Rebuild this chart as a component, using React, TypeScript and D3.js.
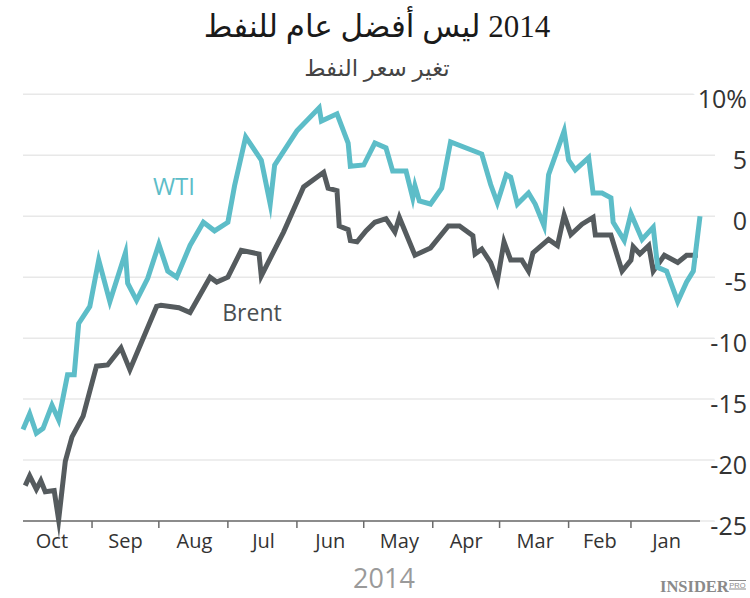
import React from "react";
import * as d3 from "d3";

// WTI: percent change since start of 2014
const wtiDates = [
  "2014-01-01", "2014-01-04", "2014-01-07", "2014-01-11", "2014-01-16", "2014-01-20", "2014-01-22", "2014-01-27",
  "2014-02-01", "2014-02-04", "2014-02-09", "2014-02-10", "2014-02-14", "2014-02-18", "2014-02-20", "2014-02-26",
  "2014-03-01", "2014-03-03", "2014-03-10", "2014-03-12", "2014-03-16", "2014-03-19", "2014-03-24", "2014-03-27", "2014-03-29",
  "2014-04-02", "2014-04-05", "2014-04-09", "2014-04-23", "2014-04-27",
  "2014-05-02", "2014-05-07", "2014-05-09", "2014-05-10", "2014-05-13", "2014-05-19", "2014-05-22", "2014-05-27",
  "2014-06-01", "2014-06-07", "2014-06-08", "2014-06-13", "2014-06-20", "2014-06-21",
  "2014-07-01", "2014-07-11", "2014-07-13", "2014-07-17", "2014-07-24", "2014-07-29",
  "2014-08-01", "2014-08-07", "2014-08-12", "2014-08-18", "2014-08-24", "2014-08-28",
  "2014-09-01", "2014-09-06", "2014-09-11", "2014-09-15", "2014-09-16", "2014-09-23", "2014-09-28",
  "2014-10-02", "2014-10-07", "2014-10-09", "2014-10-12", "2014-10-16", "2014-10-19", "2014-10-23", "2014-10-26", "2014-10-29", "2014-11-01",
];
const wtiValues = [
  0, -4.5, -5.4, -7.0, -4.5, -4.2, -0.9, -1.9,
  0.2, -2.0, -0.5, 1.5, 1.9, 1.9, 4.8, 3.8,
  4.6, 7.0, 3.4, -0.8, 1.0, 1.9, 1.0, 3.2, 3.4,
  1.1, 2.6, 5.1, 6.1, 2.3,
  1.0, 1.25, 2.5, 1.5, 3.7, 3.7, 5.6, 6.0,
  4.2, 4.1, 6.0, 8.4, 7.8, 8.9,
  7.0, 4.2, 1.0, 4.6, 6.5, 2.5,
  -0.5, -1.2, -0.5, -2.4, -5.0, -4.5,
  -2.3, -5.1, -6.9, -5.5, -3.0, -7.0, -3.6,
  -7.4, -8.8, -13.0, -13.0, -16.7, -15.5, -17.4, -17.8, -16.2, -17.5,
];

// Brent: percent change since start of 2014
const brentDates = [
  "2014-01-02", "2014-01-07", "2014-01-11", "2014-01-17", "2014-01-22", "2014-01-24", "2014-01-28", "2014-01-31",
  "2014-02-01", "2014-02-05", "2014-02-10", "2014-02-17", "2014-02-18", "2014-02-23", "2014-02-28",
  "2014-03-03", "2014-03-06", "2014-03-10", "2014-03-17", "2014-03-19", "2014-03-22", "2014-03-27", "2014-03-30",
  "2014-04-02", "2014-04-05", "2014-04-09", "2014-04-12", "2014-04-13", "2014-04-19", "2014-04-24",
  "2014-05-02", "2014-05-09", "2014-05-16", "2014-05-18", "2014-05-22", "2014-05-27", "2014-05-31",
  "2014-06-04", "2014-06-07", "2014-06-08", "2014-06-12", "2014-06-13", "2014-06-17", "2014-06-19", "2014-06-28",
  "2014-07-07", "2014-07-17", "2014-07-18", "2014-07-26",
  "2014-08-01", "2014-08-06", "2014-08-09", "2014-08-18", "2014-08-23", "2014-08-31",
  "2014-09-02", "2014-09-14", "2014-09-18", "2014-09-24", "2014-09-29",
  "2014-10-05", "2014-10-10", "2014-10-13", "2014-10-16", "2014-10-18", "2014-10-22", "2014-10-24", "2014-10-26", "2014-10-29", "2014-10-31",
];
const brentValues = [
  -3.2, -3.2, -3.8, -3.2, -4.5, -2.4, -3.1, -2.5,
  -3.6, -4.5, -1.55, -1.55, -0.1, -0.65, -1.5,
  0.1, -2.4, -1.9, -3.0, -4.5, -3.6, -3.6, -2.1,
  -5.3, -3.8, -2.7, -3.1, -1.6, -0.8, -0.8,
  -2.6, -3.2, -0.1, -1.3, -0.2, -0.5, -1.2,
  -2.1, -2.0, -1.1, -0.8, 2.1, 2.3, 3.6, 2.4,
  -1.3, -4.9, -3.1, -2.8,
  -5.0, -5.4, -5.0, -7.9, -7.5, -7.3,
  -7.4, -12.6, -10.8, -12.2, -12.3,
  -16.4, -18.1, -20.1, -24.9, -22.5, -22.6, -21.7, -22.4, -21.3, -22.1,
];

const yTicks = [10, 5, 0, -5, -10, -15, -20, -25];
const monthTickDates = [
  "2014-02-01", "2014-03-01", "2014-04-01", "2014-05-01", "2014-06-01",
  "2014-07-01", "2014-08-01", "2014-09-01", "2014-10-01",
];
const monthLabelDates = [
  "2014-01-16", "2014-02-15", "2014-03-16", "2014-04-16", "2014-05-16",
  "2014-06-16", "2014-07-16", "2014-08-16", "2014-09-16", "2014-10-19",
];
const monthLabels = ["Jan", "Feb", "Mar", "Apr", "May", "Jun", "Jul", "Aug", "Sep", "Oct"];

const titleText = "2014 ليس أفضل عام للنفط";
const subtitleText = "تغير سعر النفط";
const yearLabel = "2014";

const WTI_COLOR = "#5dbdc8";
const BRENT_COLOR = "#555b5e";

export default function App() {
  const W = 750;
  const H = 598;
  const parse = d3.timeParse("%Y-%m-%d");
  const x = d3
    .scaleTime()
    .domain([parse("2014-11-01") as Date, parse("2014-01-01") as Date])
    .range([23, 700]);
  const y = d3.scaleLinear().domain([-25, 10]).range([521, 94.3]);

  const line = d3
    .line<[Date, number]>()
    .x((d) => x(d[0]))
    .y((d) => y(d[1]));

  const wti: [Date, number][] = wtiDates.map((d, i) => [parse(d) as Date, wtiValues[i]]);
  const brent: [Date, number][] = brentDates.map((d, i) => [parse(d) as Date, brentValues[i]]);

  const font = "'Open Sans', 'DejaVu Sans', sans-serif";

  return (
    <svg
      width={W}
      height={H}
      style={{ position: "absolute", left: 0, top: 0, background: "#fff" }}
    >
      <rect x={0} y={0} width={W} height={H} fill="#fff" />
      {/* title */}
      <text
        x={377}
        y={37}
        textAnchor="middle"
        direction="rtl"
        style={{ direction: "rtl", unicodeBidi: "embed" } as any}
        fontFamily="'Liberation Serif', 'DejaVu Sans', serif"
        fontSize={31}
        fill="#1a1a1a"
      >
        {titleText}
      </text>
      <text
        x={377}
        y={76}
        textAnchor="middle"
        direction="rtl"
        style={{ direction: "rtl", unicodeBidi: "embed" } as any}
        fontFamily="'Liberation Serif', 'DejaVu Sans', serif"
        fontSize={23}
        fill="#444"
      >
        {subtitleText}
      </text>

      {/* gridlines */}
      {yTicks.map((t) => (
        <line
          key={"g" + t}
          x1={23}
          x2={715}
          y1={y(t)}
          y2={y(t)}
          stroke="#e8e8e8"
          strokeWidth={1.5}
        />
      ))}

      {/* x axis */}
      <line x1={23} x2={700} y1={y(-25)} y2={y(-25)} stroke="#6b6b6b" strokeWidth={1.5} />
      {monthTickDates.map((d) => {
        const xx = x(parse(d) as Date);
        return (
          <line key={"t" + d} x1={xx} x2={xx} y1={y(-25)} y2={y(-25) + 7} stroke="#6b6b6b" strokeWidth={1.5} />
        );
      })}
      {monthLabelDates.map((d, i) => (
        <text
          key={"m" + d}
          x={x(parse(d) as Date)}
          y={548}
          textAnchor="middle"
          fontFamily={font}
          fontSize={20}
          fill="#333"
        >
          {monthLabels[i]}
        </text>
      ))}

      {/* y labels */}
      {yTicks.map((t) => (
        <text
          key={"y" + t}
          x={747}
          y={y(t) + 14}
          textAnchor="end"
          fontFamily={font}
          fontSize={25}
          fill="#333"
          stroke="#fff"
          strokeWidth={10}
          style={{ paintOrder: "stroke" } as any}
        >
          {t === 10 ? "10%" : String(t)}
        </text>
      ))}

      {/* lines */}
      <path d={line(brent) || ""} fill="none" stroke={BRENT_COLOR} strokeWidth={5} strokeLinejoin="miter" strokeMiterlimit={10} />
      <path d={line(wti) || ""} fill="none" stroke={WTI_COLOR} strokeWidth={5} strokeLinejoin="miter" strokeMiterlimit={10} />

      {/* series labels */}
      <text x={174} y={195} textAnchor="middle" fontFamily={font} fontSize={24} fill={WTI_COLOR}>
        WTI
      </text>
      <text x={252} y={321} textAnchor="middle" fontFamily={font} fontSize={23} fill="#4a4f52">
        Brent
      </text>

      {/* year label */}
      <text x={384} y={588} textAnchor="middle" fontFamily={font} fontSize={27} fill="#9a9a9a">
        {yearLabel}
      </text>

      {/* logo */}
      <text x={660} y={592} fontFamily="'Liberation Serif', serif" fontWeight="bold" fontSize={16.5} fill="#8a8a8a">
        INSIDER
      </text>
      <line x1={729} x2={746} y1={580.5} y2={580.5} stroke="#8a8a8a" strokeWidth={1} />
      <line x1={729} x2={746} y1={589} y2={589} stroke="#8a8a8a" strokeWidth={1} />
      <text x={737.5} y={587.7} textAnchor="middle" fontFamily="'Liberation Sans', sans-serif" fontSize={7.5} fill="#8a8a8a">
        PRO
      </text>
    </svg>
  );
}
